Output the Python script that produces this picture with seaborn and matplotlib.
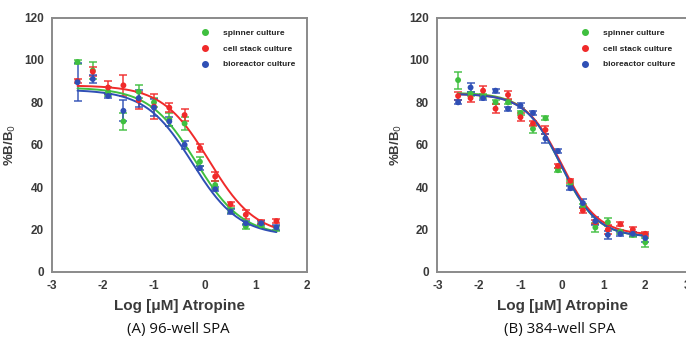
import numpy as np
import pandas as pd
import matplotlib
matplotlib.use("Agg")
import matplotlib.pyplot as plt
from matplotlib.lines import Line2D
import seaborn as sns

# ---------------- data ----------------
series_names = ["spinner culture", "cell stack culture", "bioreactor culture"]
series_colors = ["#3fbf3f", "#f02a2a", "#2f4fb5"]

x_a = [-2.5, -2.2, -1.9, -1.6, -1.3, -1.0, -0.7, -0.4, -0.1, 0.2, 0.5, 0.8, 1.1, 1.4]
green_a = [99, 95, 85, 71, 85, 80, 72, 70, 52, 41, 29, 21.5, 22, 20.5]
red_a = [90, 94.5, 87, 88, 81, 78, 77.5, 74, 58.5, 45, 32, 27, 23.5, 24]
blue_a = [89.5, 91, 83, 76, 82, 77.5, 71, 60, 49, 39, 28.5, 23, 23, 21]
green_a_err = [1, 4, 2, 4, 3, 2, 3, 3, 2, 2, 1, 1, 1, 1]
red_a_err = [1, 2, 3, 5, 4, 6, 2, 3, 2, 2, 1, 2, 1, 1]
blue_a_err = [9, 2, 1, 5, 4, 4, 2, 2, 1, 1, 1, 1, 1, 1]
# fitted 4PL parameters: top, bottom, logIC50, hill
fit_a = {"spinner culture": (87, 17, -0.18, 0.95),
         "cell stack culture": (88, 17, 0.08, 0.95),
         "bioreactor culture": (86, 17, -0.25, 0.95)}

x_b = [-2.5, -2.2, -1.9, -1.6, -1.3, -1.0, -0.7, -0.4, -0.1, 0.2, 0.5, 0.8, 1.1, 1.4, 1.7, 2.0]
green_b = [90.5, 84, 83, 80, 80, 75, 67.5, 72.5, 48, 42, 31, 21, 23.5, 19, 17.5, 14]
red_b = [83, 82, 85.5, 77, 83.5, 73, 70, 67, 50, 43, 29, 23.5, 20, 22.5, 20, 18]
blue_b = [80, 87, 82, 85.5, 77, 78.5, 75, 63, 57, 39.5, 32.5, 24, 17.5, 18, 18, 16]
green_b_err = [4, 1, 1, 1, 1, 1, 2, 1, 1, 1, 1, 2, 2, 1, 1, 2]
red_b_err = [2, 2, 2, 2, 2, 2, 1, 2, 1, 1, 1, 1, 2, 1, 1, 1]
blue_b_err = [1, 2, 1, 1, 1, 1, 1, 2, 1, 1, 2, 2, 2, 1, 1, 2]
fit_b = {"spinner culture": (84.5, 16.5, -0.03, 1.0),
         "cell stack culture": (84, 17.5, -0.01, 1.0),
         "bioreactor culture": (84, 16.5, -0.02, 1.0)}

x_ticks = [-3, -2, -1, 0, 1, 2, 3]
y_ticks = [0, 20, 40, 60, 80, 100, 120]
subtitles = ["(A) 96-well SPA", "(B) 384-well SPA"]
xlabel = "Log [\u03bcM] Atropine"
ylabel = "%B/B$_0$"

# ---------------- figure ----------------
sns.set_style("white")
plt.rcParams["font.family"] = ["Liberation Sans", "DejaVu Sans"]
plt.rcParams["axes.unicode_minus"] = False

fig = plt.figure(figsize=(6.86, 3.37), dpi=100)
ax_a = fig.add_axes([52 / 686, 65 / 337, 255 / 686, 254.5 / 337])
ax_b = fig.add_axes([437.3 / 686, 65 / 337, 249.6 / 686, 254.5 / 337])

spine_col = "#8a8a8a"
text_col = "#3a3a3a"


def four_pl(x, p):
    top, bottom, logic, hill = p
    return bottom + (top - bottom) / (1 + 10 ** ((x - logic) * hill))


def draw(ax, xs, ys, errs, fits, xlim_hi):
    frames = []
    curve_frames = []
    xc = np.linspace(xs[0], xs[-1], 200)
    for name, y, e in zip(series_names, ys, errs):
        frames.append(pd.DataFrame({"x": xs, "y": y, "err": e, "series": name}))
        curve_frames.append(pd.DataFrame({"x": xc, "y": four_pl(xc, fits[name]), "series": name}))
    pts = pd.concat(frames, ignore_index=True)
    crv = pd.concat(curve_frames, ignore_index=True)
    pal = dict(zip(series_names, series_colors))

    for name, col in zip(series_names, series_colors):
        d = pts[pts.series == name]
        ax.errorbar(d.x, d.y, yerr=d.err, fmt="none", ecolor=col, elinewidth=1.2,
                    capsize=3, capthick=1.2, alpha=0.85, zorder=2)
    sns.lineplot(data=crv, x="x", y="y", hue="series", palette=pal, ax=ax,
                 linewidth=1.4, legend=False, zorder=3)
    sns.scatterplot(data=pts, x="x", y="y", hue="series", palette=pal, ax=ax,
                    s=18, edgecolor="none", legend=False, zorder=4)

    ax.set_xlim(-3, xlim_hi)
    ax.set_ylim(0, 120)
    ax.set_xticks([t for t in x_ticks if t <= xlim_hi])
    ax.set_yticks(y_ticks)
    ax.tick_params(axis="both", direction="out", length=4, width=1.2, color=spine_col,
                   labelsize=8.5, labelcolor=text_col, pad=2)
    for lab in ax.get_xticklabels() + ax.get_yticklabels():
        lab.set_fontweight("bold")
    for sp in ax.spines.values():
        sp.set_color(spine_col)
        sp.set_linewidth(1.4)
        sp.set_visible(True)
    ax.set_xlabel(xlabel, fontsize=11, fontweight="bold", color=text_col, labelpad=5)
    ax.set_ylabel(ylabel, fontsize=9.5, fontweight="bold", color=text_col, labelpad=4)

    handles = [Line2D([0], [0], marker="o", linestyle="none", color=c, markersize=4)
               for c in series_colors]
    ax.legend(handles, series_names, loc="upper right", frameon=False,
              prop={"size": 6, "weight": "bold"}, handletextpad=1.2,
              labelspacing=0.95, borderaxespad=1.0, labelcolor="#222222")


draw(ax_a, x_a, [green_a, red_a, blue_a], [green_a_err, red_a_err, blue_a_err], fit_a, 2)
draw(ax_b, x_b, [green_b, red_b, blue_b], [green_b_err, red_b_err, blue_b_err], fit_b, 3)

fig.text(178 / 686, 1 - 330 / 337, subtitles[0], ha="center", va="center",
         fontsize=10.8, family=["Open Sans", "DejaVu Sans"], color="#111111")
fig.text(560 / 686, 1 - 330 / 337, subtitles[1], ha="center", va="center",
         fontsize=10.8, family=["Open Sans", "DejaVu Sans"], color="#111111")

fig.savefig("out.png", dpi=100)
